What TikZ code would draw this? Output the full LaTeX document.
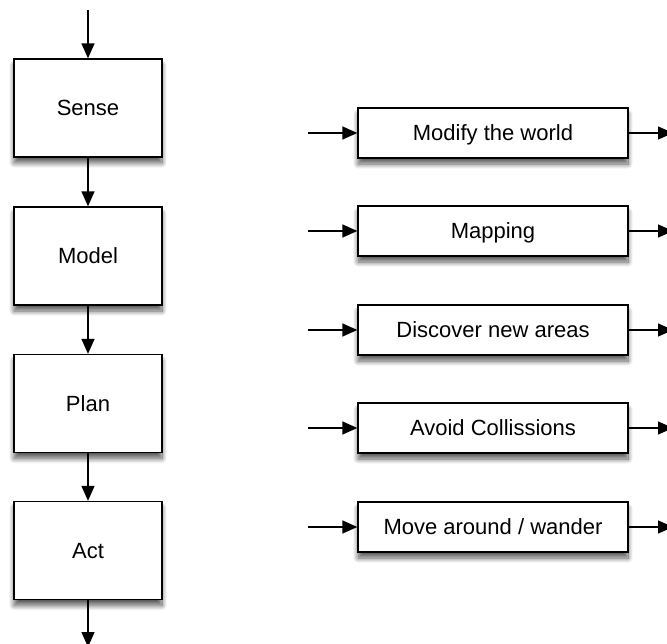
\documentclass[tikz,border=0pt]{standalone}
\usepackage{fontspec}
\setmainfont{Liberation Sans}
\usetikzlibrary{shadows.blur,arrows.meta}
\begin{document}
\begin{tikzpicture}[x=1pt,y=-1pt,
  box/.style={draw=black,line width=1.3pt,fill=white,font=\fontsize{22}{24}\selectfont,
    text height=15.8pt,text depth=0pt,
    blur shadow={shadow xshift=0pt,shadow yshift=-6pt,shadow blur radius=5pt,shadow blur steps=12,shadow opacity=65}},
  bigbox/.style={box,minimum width=148pt,minimum height=98pt,inner sep=0pt},
  widebox/.style={box,minimum width=270pt,minimum height=50pt,inner sep=0pt},
  arr/.style={line width=1.4pt,-{Triangle[length=15pt,width=13pt]}}]
\useasboundingbox (0,0) rectangle (667,644);
\node[bigbox] (sense) at (88,108) {Sense};
\node[bigbox] (model) at (88,256) {Model};
\node[bigbox] (plan) at (88,403.5) {Plan};
\node[bigbox] (act) at (88,550.5) {Act};
\coordinate (top) at (88,10);
\coordinate (bot) at (88,647);
\draw[arr] (top) -- (sense);
\draw[arr] (sense) -- (model);
\draw[arr] (model) -- (plan);
\draw[arr] (plan) -- (act);
\draw[arr] (act) -- (bot);
\foreach \n/\y/\t in {m1/133/{Modify the world}, m2/231/{Mapping}, m3/330/{Discover new areas}, m4/428/{Avoid Collissions}, m5/527/{Move around / wander}}{
  \node[widebox] (\n) at (493,\y) {\t};
  \coordinate (\n in) at (308,\y);
  \coordinate (\n out) at (673,\y);
  \draw[arr] (\n in) -- (\n);
  \draw[arr] (\n) -- (\n out);
}
\end{tikzpicture}
\end{document}
